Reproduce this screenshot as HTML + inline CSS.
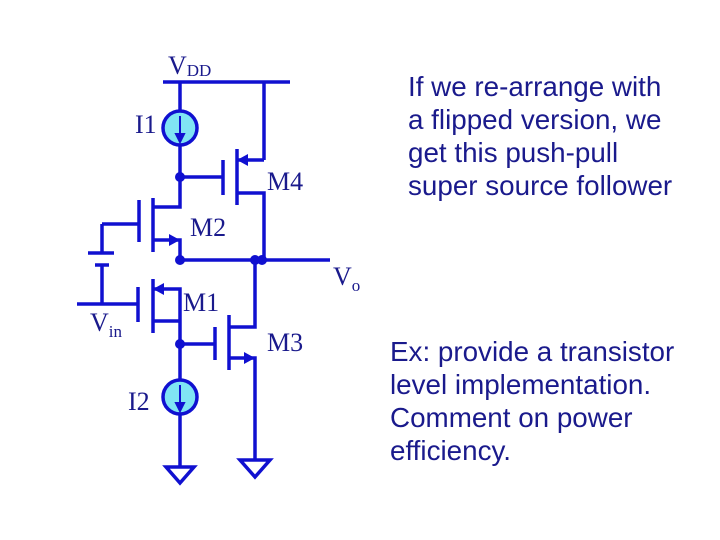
<!DOCTYPE html>
<html><head><style>
body{margin:0;width:720px;height:540px;background:#fff;overflow:hidden;position:relative}
.t{position:absolute;font-family:"Liberation Sans",sans-serif;font-size:27.8px;color:#1a1a8c;line-height:33px;white-space:nowrap}
</style></head><body>
<svg width="720" height="540" style="position:absolute;left:0;top:0" xmlns="http://www.w3.org/2000/svg">
<g stroke="#1010d0" stroke-width="3.5" fill="none">
<path d="M163 82H290M180 82V111M180 145V207H153M153 198V252M139 200V242M102 224H139M102 224V253M88 253H114M95 265H109M102 265V304M77 304H138M138 287V322M153 279V333M153 240H180V260M180 260H330M153 289H180V321H153M180 321V380M180 414V467M180 177H223M223 160V195M237 149V205M237 160H264M264 82V160M237 193H264V260M255 260V327H229M229 315V370M215 327V360M180 344H215M229 358H255V460"/>
<path d="M166 467H194L180 483Z M240 460H270L255 477Z" fill="#fff"/>
</g>
<g fill="#1010d0">
<path d="M237 160L248 154V166Z"/>
<path d="M180 240L169 234V246Z"/>
<path d="M153 289L164 283V295Z"/>
<path d="M255 358L244 352V364Z"/>
<circle cx="180" cy="177" r="5"/><circle cx="180" cy="260" r="5"/><circle cx="255" cy="260" r="5"/><circle cx="262" cy="260" r="5"/><circle cx="180" cy="344" r="5"/>
</g>
<g stroke="#1010d0" stroke-width="3.5" fill="#80e4f4">
<circle cx="180" cy="128" r="17"/><circle cx="180" cy="397" r="17"/>
</g>
<g stroke="#1010d0" stroke-width="2" fill="#1010d0">
<path d="M180 116V136" fill="none"/><path d="M180 142L176 134H184Z"/>
<path d="M180 385V405" fill="none"/><path d="M180 411L176 403H184Z"/>
</g>
<g font-family="Liberation Serif,serif" font-size="26" fill="#1a1a8c">
<text x="168" y="74">V<tspan font-size="17" dy="2">DD</tspan></text>
<text x="135" y="133">I1</text>
<text x="267" y="190">M4</text>
<text x="190" y="236">M2</text>
<text x="333" y="285">V<tspan font-size="17" dy="6">o</tspan></text>
<text x="183" y="311">M1</text>
<text x="90" y="331">V<tspan font-size="17" dy="6">in</tspan></text>
<text x="267" y="351">M3</text>
<text x="128" y="410">I2</text>
</g>
</svg>
<div class="t" style="left:408px;top:70px">If we re-arrange with<br>a flipped version, we<br>get this push-pull<br>super source follower</div>
<div class="t" style="left:390px;top:335px">Ex: provide a transistor<br>level implementation.<br>Comment on power<br>efficiency.</div>
</body></html>
